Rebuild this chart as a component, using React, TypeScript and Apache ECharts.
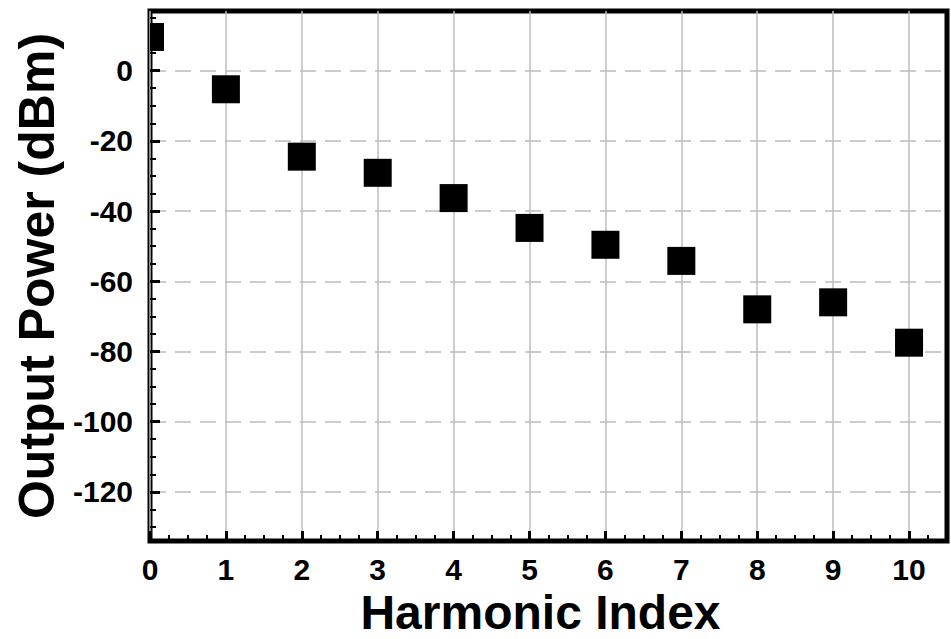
import React, { useEffect, useRef } from "react";
import * as echarts from "echarts";

const harmonicIndex = [0, 1, 2, 3, 4, 5, 6, 7, 8, 9, 10];
const outputPower = [9.6, -5.3, -24.5, -29.1, -36.3, -44.8, -49.6, -54.2, -68.0, -66.0, -77.5];
const xTickLabels = [0, 1, 2, 3, 4, 5, 6, 7, 8, 9, 10];
const xMinorTicks = [0.25, 0.5, 0.75, 1.25, 1.5, 1.75, 2.25, 2.5, 2.75, 3.25, 3.5, 3.75, 4.25, 4.5, 4.75, 5.25, 5.5, 5.75, 6.25, 6.5, 6.75, 7.25, 7.5, 7.75, 8.25, 8.5, 8.75, 9.25, 9.5, 9.75, 10.25];
const yTickLabels = [-120, -100, -80, -60, -40, -20, 0];
const yMinorTicks = [-130, -125, -115, -110, -105, -95, -90, -85, -75, -70, -65, -55, -50, -45, -35, -30, -25, -15, -10, -5, 5, 10, 15];

const FONT = "'Liberation Sans', Arial, Helvetica, sans-serif";
const X_MIN = 0;
const X_MAX = 10.5;
const Y_MIN = -134;
const Y_MAX = 17;
const MARKER = 28;

export default function App() {
  const ref = useRef<HTMLDivElement>(null);
  useEffect(() => {
    if (!ref.current) return;
    const chart = echarts.init(ref.current, undefined, { renderer: "svg" });
    const data = harmonicIndex.map((x, i) => [x, outputPower[i]]);
    chart.setOption({
      animation: false,
      backgroundColor: "#ffffff",
      grid: {
        left: 150,
        right: 4,
        top: 11,
        bottom: 98,
        containLabel: false,
        outerBoundsMode: "none",
        show: true,
        borderColor: "#000",
        borderWidth: 5,
        backgroundColor: "transparent",
      },
      xAxis: [
        {
          type: "value",
          position: "bottom",
          min: X_MIN,
          max: X_MAX,
          interval: 1,
          axisLine: { show: false, onZero: false },
          axisTick: {
            show: true,
            inside: true,
            length: 10,
            customValues: xTickLabels,
            lineStyle: { color: "#000", width: 3 },
          },
          axisLabel: {
            customValues: xTickLabels,
            margin: 13,
            color: "#000",
            fontFamily: FONT,
            fontWeight: "bold",
            fontSize: 30,
          },
          splitLine: {
            show: true,
            lineStyle: { color: "#bcbcbc", width: 1.5, type: "solid" },
          },
          name: "Harmonic Index",
          nameLocation: "middle",
          nameGap: 71,
          nameTextStyle: {
            color: "#000",
            fontFamily: FONT,
            fontWeight: "bold",
            fontSize: 48,
            lineHeight: 44,
            verticalAlign: "middle",
            padding: [0, 16, 0, 0],
          },
        },
        {
          type: "value",
          position: "bottom",
          min: X_MIN,
          max: X_MAX,
          interval: 1,
          axisLine: { show: false, onZero: false },
          axisTick: {
            show: true,
            inside: true,
            length: 6,
            customValues: xMinorTicks,
            lineStyle: { color: "#000", width: 2 },
          },
          axisLabel: { show: false },
          splitLine: { show: false },
        },
      ],
      yAxis: [
        {
          type: "value",
          position: "left",
          min: Y_MIN,
          max: Y_MAX,
          minInterval: 20,
          maxInterval: 20,
          axisLine: { show: false, onZero: false },
          axisTick: {
            show: true,
            inside: true,
            length: 10,
            customValues: yTickLabels,
            lineStyle: { color: "#000", width: 3 },
          },
          axisLabel: {
            customValues: yTickLabels,
            margin: 17,
            color: "#000",
            fontFamily: FONT,
            fontWeight: "bold",
            fontSize: 30,
          },
          splitLine: {
            show: true,
            lineStyle: { color: "#bcbcbc", width: 1.5, type: [16, 9] },
          },
          name: "Output Power (dBm)",
          nameLocation: "middle",
          nameGap: 110,
          nameTextStyle: {
            color: "#000",
            fontFamily: FONT,
            fontWeight: "bold",
            fontSize: 50,
            verticalAlign: "middle",
          },
        },
        {
          type: "value",
          position: "left",
          min: Y_MIN,
          max: Y_MAX,
          minInterval: 20,
          maxInterval: 20,
          axisLine: { show: false, onZero: false },
          axisTick: {
            show: true,
            inside: true,
            length: 6,
            customValues: yMinorTicks,
            lineStyle: { color: "#000", width: 2 },
          },
          axisLabel: { show: false },
          splitLine: { show: false },
        },
      ],
      series: [
        {
          type: "custom",
          xAxisIndex: 0,
          yAxisIndex: 0,
          data,
          z: 1,
          renderItem: (params: any, api: any) => {
            const p = api.coord([api.value(0), api.value(1)]);
            const cs = params.coordSys;
            const shape = echarts.graphic.clipRectByRect(
              { x: p[0] - MARKER / 2, y: p[1] - MARKER / 2, width: MARKER, height: MARKER },
              { x: cs.x, y: cs.y, width: cs.width, height: cs.height }
            );
            if (!shape) return null;
            return { type: "rect", shape, style: { fill: "#000" } };
          },
        },
      ],
    });
    return () => chart.dispose();
  }, []);
  return <div ref={ref} style={{ width: 951, height: 639, position: "absolute", left: 0, top: 0 }} />;
}
